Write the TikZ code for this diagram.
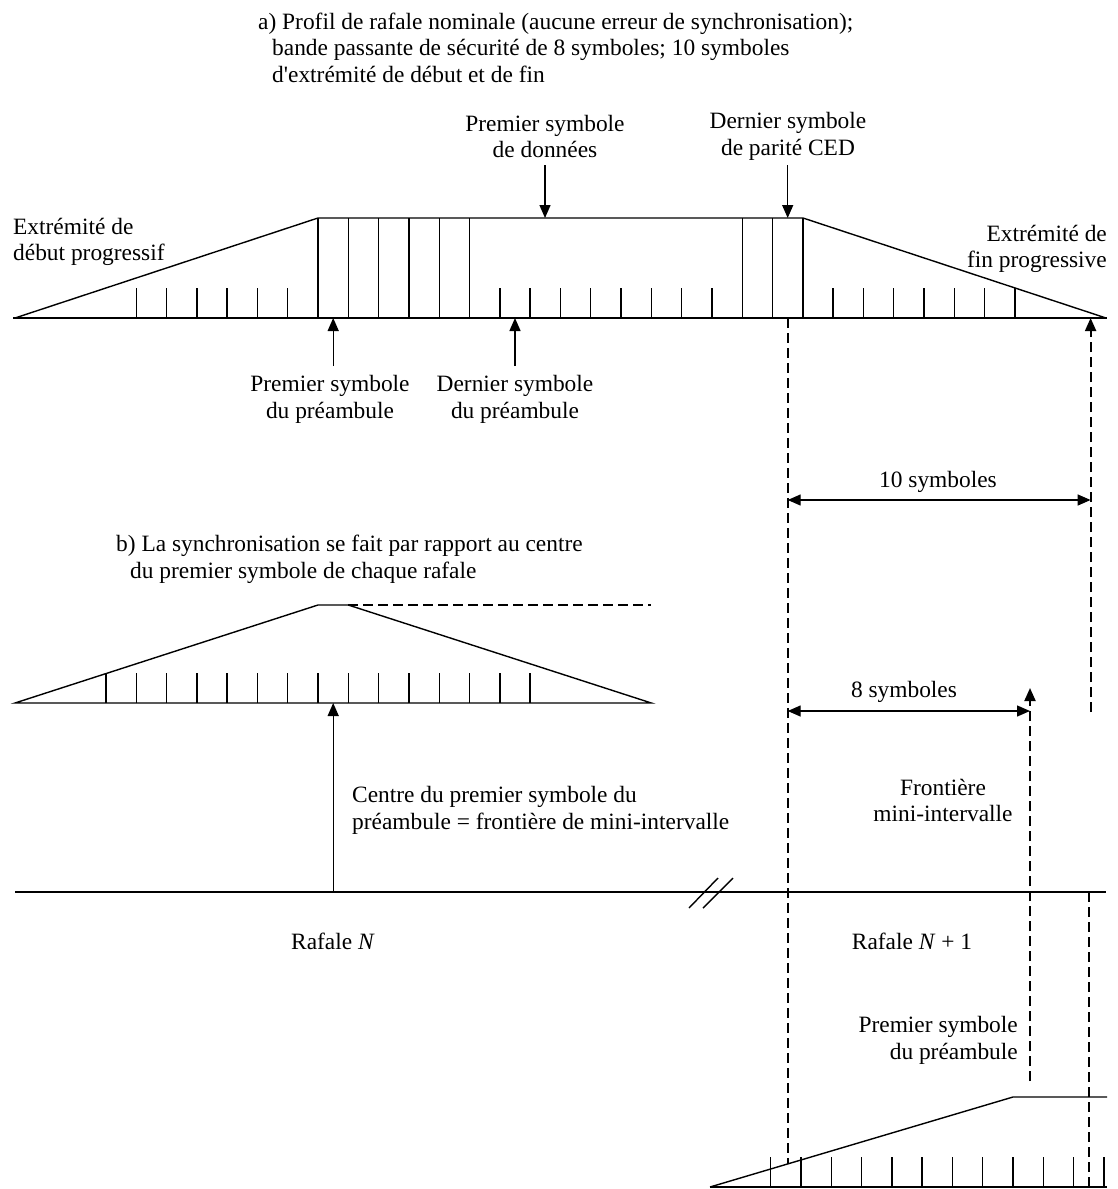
\documentclass[tikz,border=0pt]{standalone}
\usepackage{fontspec}
\setmainfont{Liberation Serif}[Ligatures=TeXOff]
\usetikzlibrary{arrows.meta}
\begin{document}
\begin{tikzpicture}[x=1pt,y=-1pt,
  lbl/.style={font=\fontsize{23.4}{26.5}\selectfont, inner sep=0pt},
  lin/.style={line width=1.4pt},
  dsh/.style={line width=2pt, dash pattern=on 10pt off 5pt},
  tip/.style={-{Triangle[length=13pt,width=11pt]}},
  dimline/.style={{Triangle[length=13pt,width=11pt]}-{Triangle[length=13pt,width=11pt]}, line width=1.4pt},
]
\useasboundingbox (0,0) rectangle (1117,1189);
\def\symw{30.3}

% ---------- a) nominal burst profile ----------
\coordinate (aL) at (15,318);
\coordinate (aP1) at (318,218);
\coordinate (aP2) at (803,218);
\coordinate (aR) at (1106,318);
\draw[lin] (aL) -- (aP1) -- (aP2) -- (aR);
\draw[lin] (13,318) -- (1107,318);
% full-height symbol boundaries (preamble and CED parity)
\foreach \k in {0,1,2,3,4,5,14,15,16}
  \draw[lin] ({318+\k*\symw},318) -- ({318+\k*\symw},218);
% short symbol ticks (ramps and data)
\foreach \k in {-6,-5,-4,-3,-2,-1,6,7,8,9,10,11,12,13,17,18,19,20,21,22,23}
  \draw[lin] ({318+\k*\symw},318) -- ({318+\k*\symw},288);

\node[lbl, anchor=west] (title-a) at (258,47.5)
  [align=left] {a) Profil de rafale nominale (aucune erreur de synchronisation);\\
  \hspace*{14pt}bande passante de sécurité de 8 symboles; 10 symboles\\
  \hspace*{14pt}d'extrémité de début et de fin};

\node[lbl, align=center] (firstdata) at (545,136.5) {Premier symbole\\de données};
\coordinate (firstdata-t) at (545,165);
\coordinate (firstdata-h) at (545,218);
\draw[lin, tip] (firstdata-t) -- (firstdata-h);

\node[lbl, align=center] (lastced) at (788,136.5) {Dernier symbole\\de parité CED};
\coordinate (lastced-t) at (787.7,165);
\coordinate (lastced-h) at (787.7,218);
\draw[lin, tip] (lastced-t) -- (lastced-h);

\node[lbl, anchor=west, align=left] (rampup) at (13,242) {Extrémité de\\début progressif};
\node[lbl, anchor=east, align=right] (rampdown) at (1107,249) {Extrémité de\\fin progressive};

\node[lbl, align=center] (firstpre) at (330,399.5) {Premier symbole\\du préambule};
\coordinate (firstpre-t) at (333.2,366);
\coordinate (firstpre-h) at (333.2,318);
\draw[lin, tip] (firstpre-t) -- (firstpre-h);

\node[lbl, align=center] (lastpre) at (515,399.5) {Dernier symbole\\du préambule};
\coordinate (lastpre-t) at (515,366);
\coordinate (lastpre-h) at (515,318);
\draw[lin, tip] (lastpre-t) -- (lastpre-h);

% ---------- guard-band dimensions ----------
\coordinate (g0top) at (787.7,318);
\coordinate (g0bot) at (787.7,1164);
\draw[dsh] (g0top) -- (g0bot);

\coordinate (g10bot) at (1090.6,712);
\coordinate (g10top) at (1090.6,318);
\draw[dsh, tip] (g10bot) -- (g10top);

\coordinate (d10a) at (787.7,500);
\coordinate (d10b) at (1090.6,500);
\draw[dimline] (d10a) -- (d10b);
\node[lbl] (ten) at (938,481.5) {10 symboles};

\coordinate (d8a) at (787.7,711);
\coordinate (d8b) at (1030,711);
\draw[dimline] (d8a) -- (d8b);
\node[lbl] (eight) at (904,692) {8 symboles};

\coordinate (mini-bot) at (1030,1081);
\coordinate (mini-top) at (1030,688);
\draw[dsh, tip] (mini-bot) -- (mini-top);
\node[lbl, align=center] (mini) at (943,800.5) {Frontière\\mini-intervalle};

% ---------- b) synchronisation on first symbol centre ----------
\node[lbl, anchor=west, align=left] (title-b) at (116,559.5)
  {b) La synchronisation se fait par rapport au centre\\
  \hspace*{14pt}du premier symbole de chaque rafale};

\coordinate (bL) at (15,703);
\coordinate (bP1) at (318,605);
\coordinate (bP2) at (348.3,605);
\coordinate (bR) at (651.3,703);
\draw[lin] (bL) -- (bP1) -- (bP2) -- (bR) -- cycle;
\draw[dsh] (bP2) -- (651.3,605);
\foreach \k in {-7,-6,-5,-4,-3,-2,-1,0,1,2,3,4,5,6,7}
  \draw[lin] ({318+\k*\symw},703) -- ({318+\k*\symw},673);

% ---------- time axis ----------
\coordinate (axL) at (15,892);
\coordinate (axR) at (1106,892);
\draw[lin] (axL) -- (axR);
\draw[lin] (689,908) -- (718,878);
\draw[lin] (703,908) -- (733,878);

\coordinate (ctr-t) at (333.2,892);
\coordinate (ctr-h) at (333.2,703);
\draw[lin, tip] (ctr-t) -- (ctr-h);
\node[lbl, anchor=west, align=left] (ctr) at (352,810.5)
  {Centre du premier symbole du\\préambule = frontière de mini-intervalle};

\node[lbl] (burstN) at (333,941.5) {Rafale \textit{N}};
\node[lbl] (burstN1) at (912,941.5) {Rafale \textit{N} + 1};

% ---------- burst N+1 ----------
\coordinate (cL) at (710,1187);
\coordinate (cP1) at (1013,1097);
\coordinate (cP2) at (1107,1097);
\draw[lin] (cL) -- (cP1) -- (cP2);
\draw[lin] (cL) -- (1107,1187);
\foreach \j in {2,3,4,5,6,7,8,9,10,11,12,13}
  \draw[lin] ({710+\j*\symw},1187) -- ({710+\j*\symw},1157);

\coordinate (p1top) at (1088.8,892);
\coordinate (p1bot) at (1088.8,1187);
\draw[dsh] (p1top) -- (p1bot);
\node[lbl, anchor=east, align=right] (firstpre2) at (1018,1040.5) {Premier symbole\\du préambule};
\end{tikzpicture}
\end{document}
